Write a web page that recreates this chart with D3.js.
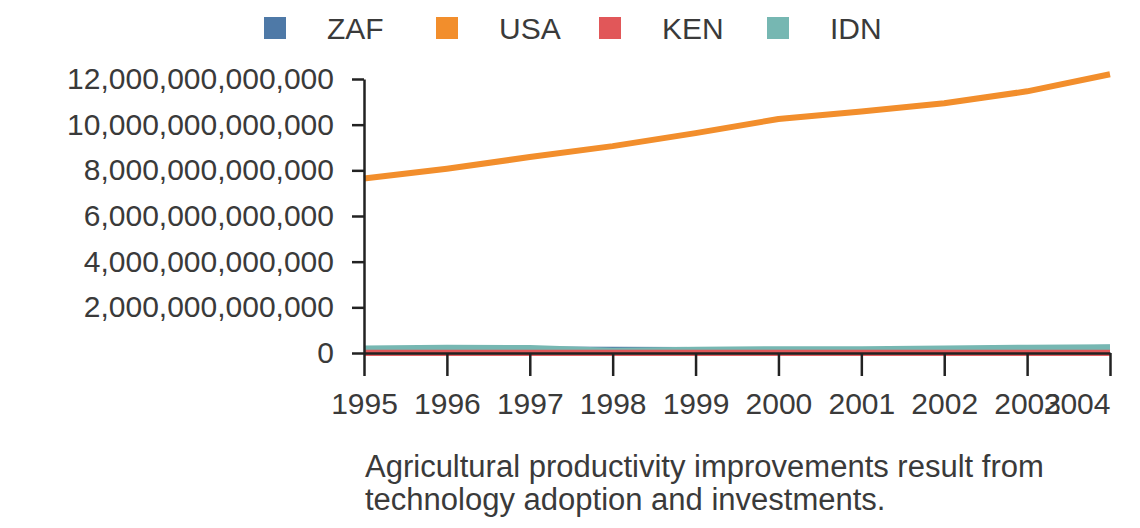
<!DOCTYPE html>
<html>
<head>
<meta charset="utf-8">
<script src="https://cdn.jsdelivr.net/npm/d3@7"></script>
<style>
  body { margin: 0; background: #fff; }
  text { font-family: "Liberation Sans", Arial, sans-serif; fill: #3a3a3a; }
</style>
</head>
<body>
<svg id="chart" width="1140" height="528"></svg>
<script>
const years = [1995, 1996, 1997, 1998, 1999, 2000, 2001, 2002, 2003, 2004];
const zaf = [155e9, 147e9, 152e9, 137e9, 136e9, 136e9, 121e9, 116e9, 176e9, 229e9];
const usa = [7.64e12, 8.07e12, 8.58e12, 9.06e12, 9.63e12, 10.25e12, 10.58e12, 10.94e12, 11.46e12, 12.21e12];
const ken = [9e9, 13e9, 13e9, 14e9, 13e9, 13e9, 13e9, 13e9, 15e9, 16e9];
const idn = [202e9, 227e9, 215e9, 95e9, 140e9, 165e9, 160e9, 196e9, 235e9, 257e9];
const seriesNames = ["ZAF", "USA", "KEN", "IDN"];
const colors = ["#4e79a7", "#f28e2c", "#e15759", "#76b7b2"];
const seriesValues = [zaf, usa, ken, idn];

const svg = d3.select("#chart");
const x = d3.scaleLinear().domain([1995, 2004]).range([364, 1110]);
const y = d3.scaleLinear().domain([0, 12e12]).range([353, 79]);

// legend
const legendX = [275, 447, 610, 778];
const lg = svg.append("g").selectAll("g").data(seriesNames).join("g")
  .attr("transform", (d, i) => `translate(${legendX[i]},28)`);
lg.append("rect").attr("x", -11).attr("y", -11).attr("width", 22).attr("height", 22)
  .attr("fill", (d, i) => colors[i]);
lg.append("text").attr("x", 52).attr("dy", "0.35em").attr("font-size", 30).text(d => d);

const line = d3.line().x((d, i) => x(years[i])).y(d => y(d));
seriesValues.forEach((vals, i) => {
  svg.append("path").datum(vals).attr("d", line)
    .attr("fill", "none").attr("stroke", colors[i]).attr("stroke-width", 6)
    .attr("stroke-linejoin", "round");
});
svg.append("path").datum(ken).attr("d", line)
  .attr("fill", "none").attr("stroke", colors[2]).attr("stroke-width", 6);

const yAxis = svg.append("g").attr("transform", "translate(364,0)")
  .call(d3.axisLeft(y).tickValues(d3.range(0, 12e12 + 1, 2e12)).tickFormat(d3.format(",.0f")).tickSize(12).tickSizeOuter(0));
yAxis.selectAll("text").attr("font-size", 30).attr("x", -30);

const xAxis = svg.append("g").attr("transform", "translate(0,353)")
  .call(d3.axisBottom(x).tickValues(years).tickFormat(d3.format("d")).tickSize(23).tickSizeOuter(0));
xAxis.selectAll("text").attr("font-size", 30).attr("y", 40);
xAxis.selectAll(".tick:last-child text").attr("text-anchor", "end");
svg.selectAll(".domain, .tick line").attr("stroke", "#222").attr("stroke-width", 2.5);

svg.append("text").attr("x", 365).attr("y", 477).attr("font-size", 31)
  .text("Agricultural productivity improvements result from");
svg.append("text").attr("x", 365).attr("y", 510).attr("font-size", 31)
  .text("technology adoption and investments.");
</script>
</body>
</html>
